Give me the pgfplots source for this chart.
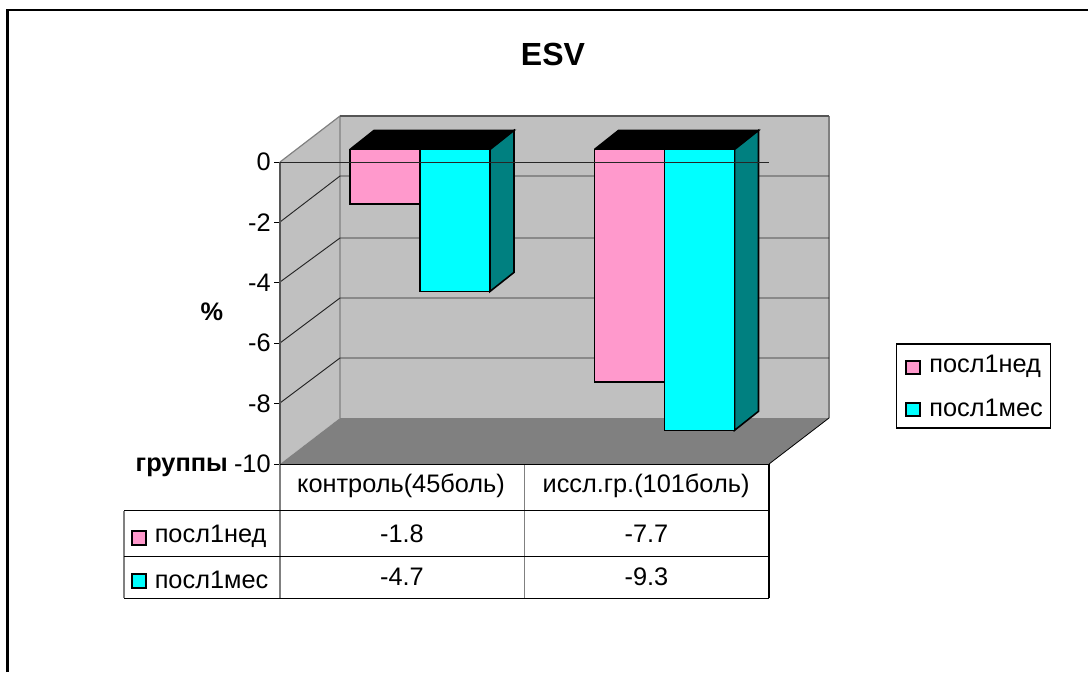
\documentclass[border=0pt]{standalone}
\usepackage{pgfplots}
\pgfplotsset{compat=1.18}
\usepackage{fontspec}
\setmainfont{Liberation Sans}
\definecolor{wall}{HTML}{C0C0C0}
\definecolor{floorc}{HTML}{808080}
\definecolor{pinkbar}{HTML}{FF99CC}
\definecolor{cyanbar}{HTML}{00FFFF}
\definecolor{tealside}{HTML}{008080}
\definecolor{axisgray}{HTML}{555555}
\newcommand{\lab}{\fontsize{19}{22}\selectfont}
\newcommand{\blab}{\fontsize{19}{22}\selectfont\bfseries}
\begin{document}
\begin{tikzpicture}
\begin{scope}[x=0.75pt,y=-0.75pt]
\useasboundingbox (0,0) rectangle (1088,672);
\coordinate (plotorigin) at (280,464);
% outer frame, open at the page's lower and right edges
\draw[line width=1.9pt,black] (7.7,672) -- (7.7,10) -- (1088,10);
% side wall, back wall and floor of the chart box
\fill[wall] (280,162) -- (340,116) -- (829,116) -- (829,418) -- (340,418) -- (280,464) -- cycle;
\fill[floorc] (280,464) -- (340,418) -- (829,418) -- (769,464) -- cycle;
\draw[line width=0.9pt,floorc] (280,162) -- (340,116) -- (340,418);
\draw[line width=0.9pt,floorc] (829,116) -- (829,418);
\draw[line width=0.9pt,axisgray] (340,116) -- (829,116);
\draw[line width=0.6pt,black] (829,418) -- (769,464);
% grid lines on side and back walls
\foreach \f/\b in {222/176,282/238,343/298,403/358}
  \draw[line width=0.7pt,black!85] (280,\f) -- (340,\b) -- (829,\b);
\end{scope}
\begin{axis}[
  at={(plotorigin)}, anchor=south west,
  scale only axis, width=366.75pt, height=226.5pt,
  xmin=280, xmax=769, ymin=-10, ymax=0,
  clip=false,
  axis x line=none,
  axis y line=left,
  axis line style={line width=0.9pt,color=axisgray,-},
  ytick={-10,-8,-6,-4,-2,0},
  yticklabels={-10,-8,-6,-4,-2,0},
  tick style={black,line width=0.6pt},
  major tick length=4.5pt,
  tick align=outside,
  y tick label style={font=\lab,inner sep=1pt,xshift=-1.3pt},
  bar width=52.5pt,
]
% upper faces of the bars
\addplot[fill=black,draw=black,line width=1.2pt,xshift=13.31pt,yshift=9.4pt,sharp plot]
  coordinates {(332.25,0)(356.25,0.63)(496.25,0.63)(472.25,0)(332.25,0)};
\addplot[fill=black,draw=black,line width=1.2pt,xshift=13.31pt,yshift=9.4pt,sharp plot]
  coordinates {(576.75,0)(600.75,0.63)(740.75,0.63)(716.75,0)(576.75,0)};
% side faces of the right-hand bars
\addplot[fill=tealside,draw=black,line width=1.2pt,xshift=13.31pt,yshift=9.4pt,sharp plot]
  coordinates {(472.25,0)(496.25,0.63)(496.25,-4.07)(472.25,-4.7)(472.25,0)};
\addplot[fill=tealside,draw=black,line width=1.2pt,xshift=13.31pt,yshift=9.4pt,sharp plot]
  coordinates {(716.75,0)(740.75,0.63)(740.75,-8.67)(716.75,-9.3)(716.75,0)};
% front faces
\addplot[ybar,bar shift=-26.25pt,fill=pinkbar,draw=black,line width=1.2pt,xshift=13.31pt,yshift=9.4pt]
  coordinates {(402.25,-1.8)(646.75,-7.7)};
\addplot[ybar,bar shift=26.25pt,fill=cyanbar,draw=black,line width=1.2pt,xshift=13.31pt,yshift=9.4pt]
  coordinates {(402.25,-4.7)(646.75,-9.3)};
% zero line across the bars
\addplot[sharp plot,black!85,line width=0.7pt,forget plot] coordinates {(280,0)(769,0)};
\end{axis}
\begin{scope}[x=0.75pt,y=-0.75pt]
% data table below the chart
\draw[line width=0.9pt,floorc] (124,510.5) -- (124,598);
\draw[line width=0.9pt,floorc] (280,464) -- (280,598);
\draw[line width=0.9pt,floorc] (524.5,464) -- (524.5,598);
\draw[line width=0.8pt,black] (769,464) -- (769,598);
\draw[line width=0.7pt,black] (280,464) -- (769,464);
\draw[line width=0.7pt,black] (124,510.5) -- (769,510.5);
\draw[line width=0.7pt,black] (124,556.5) -- (769,556.5);
\draw[line width=0.7pt,black] (124,598.5) -- (769,598.5);
\node[font=\lab] at (401,486) {контроль(45боль)};
\node[font=\lab] at (646,486) {иссл.гр.(101боль)};
\node[font=\lab] at (402,533.5) {-1.8};
\node[font=\lab] at (646.5,533.5) {-7.7};
\node[font=\lab] at (402,577) {-4.7};
\node[font=\lab] at (646.5,577) {-9.3};
\draw[fill=pinkbar,draw=black,line width=0.9pt] (132,531) rectangle (146,545);
\draw[fill=cyanbar,draw=black,line width=0.9pt] (132,574) rectangle (146,588);
\node[font=\lab,anchor=west,inner sep=0pt] at (154.5,536) {посл1нед};
\node[font=\lab,anchor=west,inner sep=0pt] at (154.5,580) {посл1мес};
% titles
\node[font=\fontsize{24}{28}\selectfont\bfseries] at (553,54) {ESV};
\node[font=\blab] at (212,312) {\%};
\node[font=\blab,anchor=east,inner sep=0pt] at (228,467) {группы};
% legend
\draw[line width=0.8pt,black,fill=white] (896.5,344) rectangle (1050.5,428);
\draw[fill=pinkbar,draw=black,line width=0.9pt] (906,361) rectangle (920,374);
\draw[fill=cyanbar,draw=black,line width=0.9pt] (906,403) rectangle (920,416);
\node[font=\lab,anchor=west,inner sep=0pt] at (929,366) {посл1нед};
\node[font=\lab,anchor=west,inner sep=0pt] at (929,408) {посл1мес};
\end{scope}
\end{tikzpicture}
\end{document}
